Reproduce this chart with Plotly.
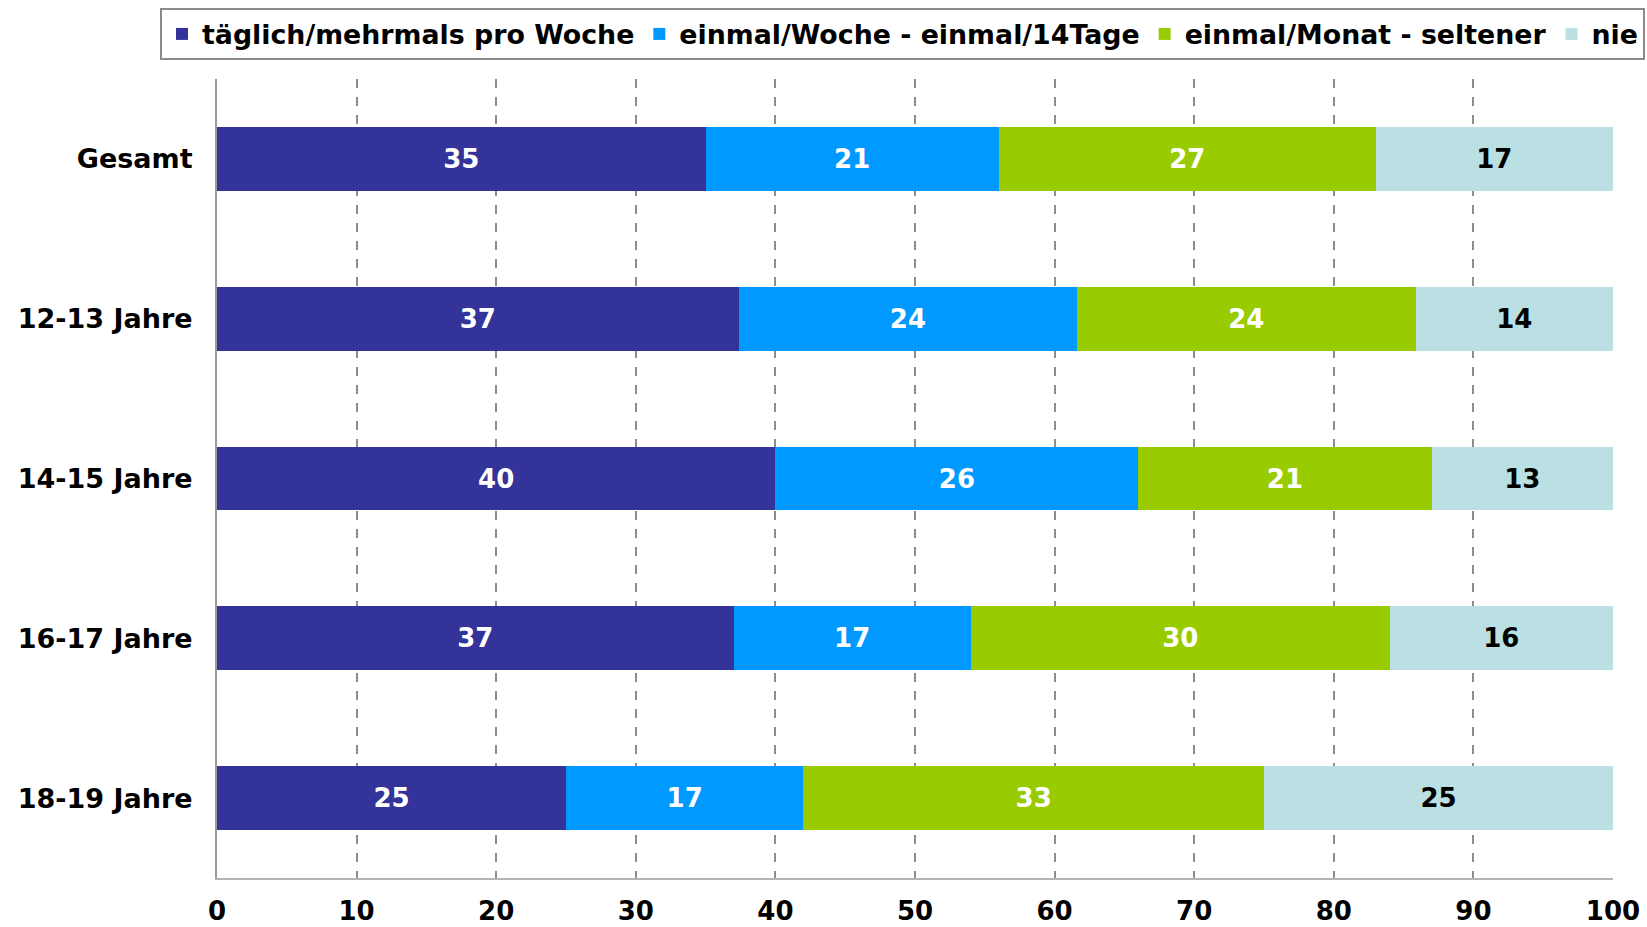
import plotly.graph_objects as go

categories = ["Gesamt", "12-13 Jahre", "14-15 Jahre", "16-17 Jahre", "18-19 Jahre"]
series_names = ["täglich/mehrmals pro Woche", "einmal/Woche - einmal/14Tage",
                "einmal/Monat - seltener", "nie"]
taeglich = [35, 37, 40, 37, 25]
woechentlich = [21, 24, 26, 17, 17]
monatlich = [27, 24, 21, 30, 33]
nie = [17, 14, 13, 16, 25]
x_ticks = [0, 10, 20, 30, 40, 50, 60, 70, 80, 90, 100]

series_values = [taeglich, woechentlich, monatlich, nie]
colors = ["#333399", "#0099FF", "#99CC00", "#BBE0E3"]
text_colors = ["white", "white", "white", "black"]

FONT = "DejaVu Sans, Verdana, sans-serif"
W, H = 1647, 927
ML, MR, MT, MB = 217, 34, 79, 49
PW, PH = W - ML - MR, H - MT - MB

fig = go.Figure()
for name, vals, col, tcol in zip(series_names, series_values, colors, text_colors):
    fig.add_trace(go.Bar(
        name=name, y=categories, x=vals, orientation="h",
        marker=dict(color=col, line=dict(width=0)),
        text=[str(v) for v in vals], texttemplate="%{text}",
        textposition="inside", insidetextanchor="middle", textangle=0,
        constraintext="none",
        textfont=dict(family=FONT, size=26, color=tcol, weight="bold"),
        hoverinfo="skip",
    ))

fig.update_layout(
    barmode="stack", barnorm="percent", bargap=0.6,
    width=W, height=H,
    margin=dict(l=ML, r=MR, t=MT, b=MB, autoexpand=False),
    paper_bgcolor="white", plot_bgcolor="white",
    font=dict(family=FONT, size=26, color="black", weight="bold"),
    legend=dict(
        orientation="h", xref="paper", yref="paper",
        x=(160 - ML) / PW, xanchor="left",
        y=(H - MB - 8) / PH, yanchor="top",
        bordercolor="#8a8a8a", borderwidth=2, bgcolor="white",
        font=dict(family=FONT, size=26.8, color="black", weight="bold"),
        traceorder="normal", itemwidth=30,
    ),
    showlegend=True,
)
fig.update_xaxes(
    range=[0, 100], tickvals=x_ticks, ticktext=[str(t) for t in x_ticks],
    showgrid=True, gridcolor="#8c8c8c", griddash="dash", gridwidth=1.5,
    zeroline=False, showline=True, linecolor="#b4b4b4", linewidth=2,
    ticks="", ticklabelstandoff=9,
    tickfont=dict(family=FONT, size=26, color="black", weight="bold"),
)
fig.update_yaxes(
    categoryorder="array", categoryarray=categories, autorange="reversed",
    showgrid=False, zeroline=False, showline=True, linecolor="#9a9a9a", linewidth=2,
    ticks="", ticklabelstandoff=17,
    tickfont=dict(family=FONT, size=27, color="black", weight="bold"),
)

fig.write_html("out.html", config={"displayModeBar": False},
               post_script="document.body.style.margin='0px';")
